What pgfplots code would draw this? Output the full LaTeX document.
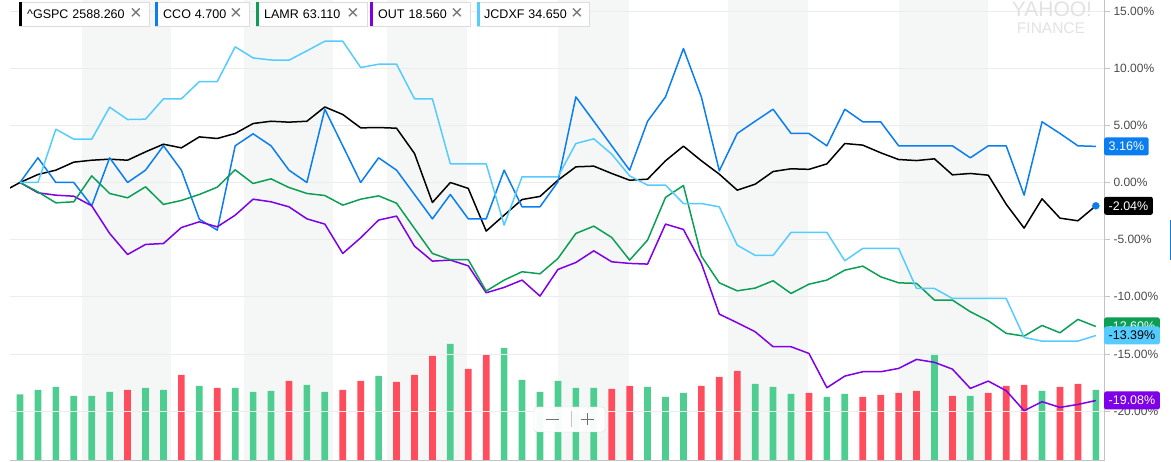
\documentclass[border=0pt]{standalone}
\usepackage{fontspec}
\setmainfont{Liberation Sans}
\usepackage{pgfplots}
\usepackage{pgfplotstable}
\pgfplotsset{compat=1.18}
\definecolor{cgspc}{HTML}{000000}
\definecolor{ccco}{HTML}{0A7EF0}
\definecolor{clamr}{HTML}{0C9E55}
\definecolor{cout}{HTML}{7D00E8}
\definecolor{cjcd}{HTML}{55CCFF}
\definecolor{vgreen}{HTML}{4DCE90}
\definecolor{vred}{HTML}{FF4D5E}
\definecolor{band}{HTML}{F5F7F7}
\definecolor{gridc}{HTML}{ECECEC}
\definecolor{axc}{HTML}{C4C4C4}
\definecolor{tickc}{HTML}{4A4A4A}
\definecolor{boxc}{HTML}{DCDCDC}
\definecolor{xc}{HTML}{707070}
\definecolor{wm}{HTML}{E2E2E2}

\pgfplotstableread{
x y
-1 -0.85
0 0
1 0.70
2 1.08
3 1.78
4 1.95
5 2.04
6 1.95
7 2.68
8 3.35
9 3.03
10 3.99
11 3.85
12 4.29
13 5.16
14 5.36
15 5.28
16 5.36
17 6.61
18 5.95
19 4.78
20 4.81
21 4.75
22 2.54
23 -1.75
24 0.00
25 -0.52
26 -4.25
27 -2.86
28 -1.49
29 -1.22
30 0.20
31 1.37
32 1.43
33 0.79
34 0.20
35 0.29
36 1.90
37 3.18
38 1.90
39 0.73
40 -0.67
41 -0.15
42 0.96
43 1.20
44 1.15
45 1.63
46 3.41
47 3.27
48 2.60
49 2.01
50 1.92
51 2.07
52 0.67
53 0.79
54 0.64
55 -1.90
56 -3.99
57 -1.43
58 -3.12
59 -3.35
60 -2.04
}\gspc

\pgfplotstableread{
x y
0 0
1 2.16
2 0
3 0
4 -2.04
5 2.16
6 0
7 1.08
8 3.21
9 1.08
10 -3.21
11 -4.17
12 3.21
13 4.26
14 3.21
15 1.08
16 0
17 6.41
18 3.21
19 0
20 2.16
21 1.08
22 -1.05
23 -3.18
24 -1.05
25 -3.18
26 -3.18
27 1.08
28 -2.13
29 -2.13
30 0.06
31 7.49
32 5.36
33 3.21
34 1.08
35 5.36
36 7.49
37 11.72
38 7.49
39 1.02
40 4.29
41 5.36
42 6.41
43 4.29
44 4.29
45 3.21
46 6.41
47 5.31
48 5.31
49 3.21
50 3.21
51 3.21
52 3.21
53 2.16
54 3.21
55 3.21
56 -1.11
57 5.31
58 4.29
59 3.21
60 3.16
}\cco

\pgfplotstableread{
x y
0 0
1 -0.82
2 -1.78
3 -1.69
4 0.58
5 -0.96
6 -1.34
7 -0.38
8 -1.92
9 -1.57
10 -1.05
11 -0.41
12 1.11
13 -0.09
14 0.32
15 -0.44
16 -0.96
17 -1.14
18 -1.98
19 -1.46
20 -1.17
21 -1.81
22 -4.02
23 -6.21
24 -6.76
25 -6.76
26 -9.50
27 -8.54
28 -7.81
29 -7.99
30 -6.65
31 -4.46
32 -3.82
33 -4.81
34 -6.79
35 -5.04
36 -1.31
37 -0.26
38 -6.44
39 -8.78
40 -9.48
41 -9.24
42 -8.60
43 -9.71
44 -8.90
45 -8.54
46 -7.67
47 -7.32
48 -8.25
49 -8.78
50 -8.83
51 -10.29
52 -10.29
53 -11.31
54 -12.10
55 -13.20
56 -13.44
57 -12.51
58 -13.15
59 -11.98
60 -12.60
}\lamr

\pgfplotstableread{
x y
0 0
1 -0.90
2 -1.11
3 -1.20
4 -2.04
5 -4.46
6 -6.30
7 -5.42
8 -5.34
9 -3.94
10 -3.44
11 -3.88
12 -2.86
13 -1.46
14 -1.69
15 -2.13
16 -3.18
17 -3.64
18 -6.21
19 -4.84
20 -3.29
21 -2.94
22 -5.57
23 -6.88
24 -6.79
25 -7.29
26 -9.65
27 -9.18
28 -8.54
29 -9.94
30 -7.61
31 -7.00
32 -5.98
33 -6.94
34 -7.08
35 -7.14
36 -3.64
37 -4.11
38 -7.08
39 -11.52
40 -12.27
41 -13.06
42 -14.37
43 -14.37
44 -14.96
45 -17.96
46 -16.94
47 -16.56
48 -16.56
49 -16.27
50 -15.48
51 -15.74
52 -16.33
53 -18.02
54 -17.38
55 -18.22
56 -19.97
57 -19.18
58 -19.68
59 -19.42
60 -19.08
}\outd

\pgfplotstableread{
x y
0 0
1 0
2 4.66
3 3.79
4 3.79
5 6.59
6 5.51
7 5.54
8 7.32
9 7.32
10 8.83
11 8.83
12 11.87
13 10.90
14 10.72
15 10.70
16 11.52
17 12.36
18 12.36
19 10.06
20 10.35
21 10.35
22 7.32
23 7.32
24 1.63
25 1.63
26 1.63
27 -3.73
28 0.50
29 0.50
30 0.50
31 3.41
32 3.82
33 2.48
34 0.58
35 -0.23
36 -0.23
37 -1.84
38 -1.84
39 -2.13
40 -5.48
41 -6.38
42 -6.38
43 -4.37
44 -4.37
45 -4.37
46 -6.85
47 -5.77
48 -5.77
49 -5.77
50 -9.27
51 -9.27
52 -10.15
53 -10.15
54 -10.15
55 -10.15
56 -13.56
57 -13.88
58 -13.88
59 -13.88
60 -13.39
}\jcd

\pgfplotstableread{
x y
0 66.7
1 71
2 74
3 65
4 65
5 69
7 73
8 71
10 75
12 73
13 69
14 70
16 76
17 69
20 85
24 117
27 113
28 81
29 69
30 80
31 73
32 73
35 74
36 64
37 68
41 77
42 74
43 67
45 64
46 67
51 107
53 65
57 70
60 71
}\volg

\pgfplotstableread{
x y
6 71
9 86
11 73
15 80
18 71
19 80
21 79
22 86
23 105
25 92
26 106
33 72
34 75
38 75
39 84
40 90
44 68
47 64
48 66
49 68
50 70
52 65
54 68
55 75
56 76
58 74
59 77
}\volr

\begin{document}
\begin{tikzpicture}[x=1pt,y=1pt]
\useasboundingbox (0,0) rectangle (1171,462);
\pgfplotsset{base/.style={at={(10pt,1pt)}, anchor=south west, scale only axis,
  width=1095pt, height=461pt, xmin=-0.558, xmax=60.51}}
% background bands
\begin{axis}[base, ymin=-24.37, ymax=15.97, axis lines=none, ticks=none]
\fill[band] (axis cs:3.46,-30) rectangle (axis cs:8.42,20);
\fill[band] (axis cs:12.49,-30) rectangle (axis cs:17.46,20);
\fill[band] (axis cs:20.47,-30) rectangle (axis cs:24.93,20);
\fill[band] (axis cs:30.0,-30) rectangle (axis cs:33.97,20);
\fill[band] (axis cs:39.49,-30) rectangle (axis cs:43.95,20);
\fill[band] (axis cs:49.02,-30) rectangle (axis cs:53.99,20);
\end{axis}
% volume bars
\begin{axis}[base, ymin=0, ymax=461, axis lines=none, ticks=none]
\addplot[ybar, bar width=6.7pt, bar shift=0pt, fill=vgreen, draw=none] table {\volg};
\addplot[ybar, bar width=6.7pt, bar shift=0pt, fill=vred, draw=none] table {\volr};
\end{axis}
% percent axis
\begin{axis}[base, ymin=-24.37, ymax=15.97,
  axis x line*=bottom, axis y line*=right,
  axis line style={-, draw=axc, line width=1pt},
  xtick=\empty,
  ytick={-20,-15,-10,-5,0,5,10,15},
  yticklabels={-20.00\%,-15.00\%,-10.00\%,-5.00\%,0.00\%,5.00\%,10.00\%,15.00\%},
  ymajorgrids, grid style={draw=gridc, line width=0.8pt},
  tick style={draw=axc, line width=0.8pt},
  major tick length=5pt, tick align=outside,
  yticklabel style={font=\fontsize{12}{14}\selectfont, text=tickc},
  ]
\addplot[cgspc, line width=1.5pt, line join=round] table {\gspc};
\addplot[ccco, line width=1.5pt, line join=round] table {\cco};
\addplot[cout, line width=1.5pt, line join=round] table {\outd};
\addplot[clamr, line width=1.5pt, line join=round] table {\lamr};
\addplot[cjcd, line width=1.5pt, line join=round] table {\jcd};
\addplot[only marks, mark=*, mark size=3.5pt, ccco, mark options={draw=ccco, fill=ccco}] coordinates {(60,-2.04)};
\end{axis}
% value tags
\tikzset{tag/.style={rounded corners=2pt, anchor=west, minimum height=18pt, inner xsep=4.5pt, inner ysep=0pt, font=\fontsize{12.5}{14}\selectfont}}
\node[tag, fill=ccco, text=white] at (1104,315.6) {3.16\%};
\node[tag, fill=cgspc, text=white] at (1104,256.2) {-2.04\%};
\node[tag, fill=clamr, text=white] at (1104,135.5) {-12.60\%};
\node[tag, fill=cjcd, text=black] at (1104,126.5) {-13.39\%};
\node[tag, fill=cout, text=white] at (1104,61.5) {-19.08\%};
% legend chips
\tikzset{lg/.style={anchor=base west, inner sep=0pt, font=\fontsize{12.5}{14}\selectfont},
  lx/.style={anchor=center, inner sep=0pt, text=xc, font=\fontsize{20}{20}\selectfont}}
\draw[boxc, fill=white, line width=0.8pt] (19,436) rectangle (149,460);
\fill[cgspc] (19,436) rectangle (22,460);
\node[lg] at (27,443.7) {\textasciicircum GSPC\hspace{4pt}2588.260};
\node[lx] at (136,448) {×};
\draw[boxc, fill=white, line width=0.8pt] (155,436) rectangle (249,460);
\fill[ccco] (155,436) rectangle (158,460);
\node[lg] at (163,443.7) {CCO\hspace{4pt}4.700};
\node[lx] at (236,448) {×};
\draw[boxc, fill=white, line width=0.8pt] (256,436) rectangle (367,460);
\fill[clamr] (256,436) rectangle (259,460);
\node[lg] at (264,443.7) {LAMR\hspace{4pt}63.110};
\node[lx] at (353,448) {×};
\draw[boxc, fill=white, line width=0.8pt] (370,436) rectangle (470,460);
\fill[cout] (370,436) rectangle (373,460);
\node[lg] at (378,443.7) {OUT\hspace{4pt}18.560};
\node[lx] at (457,448) {×};
\draw[boxc, fill=white, line width=0.8pt] (477,436) rectangle (589,460);
\fill[cjcd] (477,436) rectangle (480,460);
\node[lg] at (484,443.7) {JCDXF\hspace{4pt}34.650};
\node[lx] at (577,448) {×};
% watermark
\node[text=wm, anchor=base, inner sep=0pt, font=\fontsize{21}{21}\selectfont] at (1052,445) {YAHOO!};
\node[text=wm, anchor=base, inner sep=0pt, font=\fontsize{15.5}{16}\selectfont] at (1051,428.7) {FINANCE};
% zoom control
\draw[draw=boxc, fill=white, fill opacity=0.95, rounded corners=3pt] (534,30) rectangle (605,55);
\draw[axc, line width=0.8pt] (571,35) -- (571,51);
\draw[xc, line width=1pt] (546,42.5) -- (559,42.5);
\draw[xc, line width=1pt] (581,42.5) -- (594,42.5);
\draw[xc, line width=1pt] (587.5,36.5) -- (587.5,48.5);
% edge mark
\draw[ccco, line width=1.5pt] (1170.5,242) -- (1170.5,202);
\end{tikzpicture}
\end{document}
